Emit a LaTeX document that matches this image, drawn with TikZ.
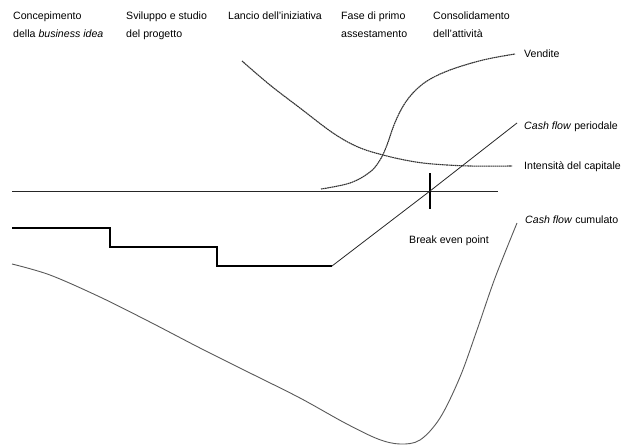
\documentclass[tikz,border=0pt]{standalone}
\usepackage{fontspec}
\setmainfont{Liberation Sans}
\begin{document}
\begin{tikzpicture}[x=1pt,y=-1pt,
  lbl/.style={anchor=mid west,inner sep=0pt,font=\fontsize{10.6}{12}\selectfont},
  thinline/.style={line width=0.8pt,black!85},
  thickline/.style={line width=1.8pt,black},
  dotcurve/.style={line width=1.1pt,black!80,dash pattern=on 1.6pt off 0.5pt},
  graycurve/.style={line width=0.9pt,black!65}]
\useasboundingbox (0,0) rectangle (621,445);
% headers
\node[lbl] (h1a) at (13,17) {Concepimento};
\node[lbl] (h1b) at (13,35) {della \textit{business idea}};
\node[lbl] (h2a) at (126,17) {Sviluppo e studio};
\node[lbl] (h2b) at (126,35) {del progetto};
\node[lbl] (h3a) at (228,17) {Lancio dell'iniziativa};
\node[lbl] (h4a) at (341,17) {Fase di primo};
\node[lbl] (h4b) at (341,35) {assestamento};
\node[lbl] (h5a) at (433,17) {Consolidamento};
\node[lbl] (h5b) at (433,35) {dell'attività};
% right labels
\node[lbl] (lv) at (524,55) {Vendite};
\node[lbl] (lp) at (524,127) {\textit{Cash flow} periodale};
\node[lbl] (li) at (524,167) {Intensità del capitale};
\node[lbl] (lc) at (525,221) {\textit{Cash flow} cumulato};
\node[lbl] (lb) at (409,241) {Break even point};
% axis
\coordinate (ax0) at (12,191);
\coordinate (ax1) at (498,191);
\draw[thinline] (ax0) -- (ax1);
% break even cross
\coordinate (be) at (430,191);
\draw[line width=1.6pt] (430,173) -- (430,209);
% periodic cash flow
\draw[thickline,line join=miter] (12,228) -- (110,228) -- (110,247) -- (217,247) -- (217,266) -- (332,266);
\draw[thinline] (332,266) -- (be) -- (517,123);
% Vendite
\draw[dotcurve] plot[smooth,tension=0.6] coordinates {(321,189) (350,183) (370,172) (380,160) (387,145) (394,125) (402,108) (412,94) (427,81) (450,70) (483,60) (515,54)};
% Intensita del capitale
\draw[dotcurve] plot[smooth,tension=0.6] coordinates {(242,61) (270,85) (300,108) (333,133) (358,147) (383,155) (410,161) (433,164) (470,166) (512,166)};
% cumulative cash flow
\draw[graycurve] plot[smooth,tension=0.55] coordinates {(12,264) (50,275) (100,297) (150,322) (200,348) (250,373) (300,398) (345,423) (378,439) (400,444) (420,440) (440,418) (460,377) (477,330) (495,278) (517,223)};
\end{tikzpicture}
\end{document}
